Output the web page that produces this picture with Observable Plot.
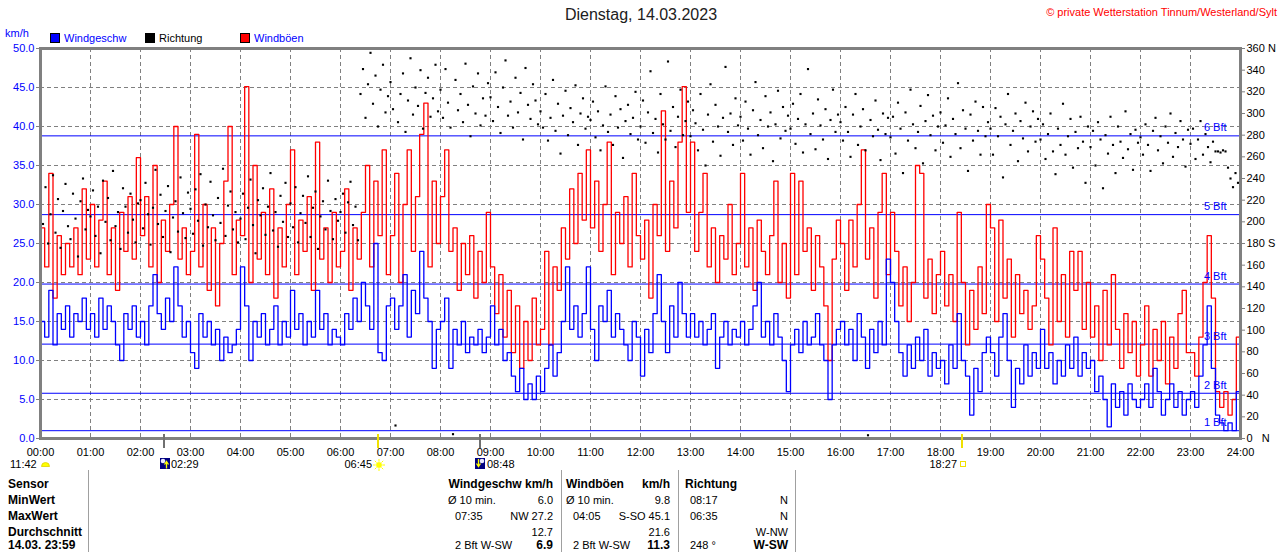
<!DOCTYPE html>
<html><head><meta charset="utf-8">
<script src="https://cdn.jsdelivr.net/npm/d3@7"></script>
<script src="https://cdn.jsdelivr.net/npm/@observablehq/plot@0.6"></script>
<style>
body{margin:0;background:#fff;font-family:"Liberation Sans",Arial,sans-serif;}
#wrap{position:relative;width:1280px;height:552px;overflow:hidden;background:#fff;}
#wrap svg.plot{position:absolute;left:0;top:0;}
.t{position:absolute;white-space:nowrap;font-size:11px;line-height:14px;color:#000;}
.b{font-weight:bold;font-size:12px;}
.sep{position:absolute;width:1px;background:#a0a0a0;top:470px;height:82px;}
</style></head><body><div id="wrap"></div>
<script>
// ---------- data ----------
const titleText = "Dienstag, 14.03.2023";
const copyrightText = "© private Wetterstation Tinnum/Westerland/Sylt";
const hourLabels = ["00:00","01:00","02:00","03:00","04:00","05:00","06:00","07:00","08:00","09:00","10:00","11:00","12:00","13:00","14:00","15:00","16:00","17:00","18:00","19:00","20:00","21:00","22:00","23:00","24:00"];
const kmhTicks = [0,5,10,15,20,25,30,35,40,45,50];
const kmhGrid = [5,10,15,20,25,30,35,40,45];
const degTicks = [0,20,40,60,80,100,120,140,160,180,200,220,240,260,280,300,320,340,360];
const degLabels = ["0\u00a0\u00a0\u00a0N","20","40","60","80","100","120","140","160","180 S","200","220","240","260","280","300","320","340","360 N"];
const bftLevels = [1, 5.8, 12.1, 19.8, 28.7, 38.8];
const bftNames = ["1 Bft","2 Bft","3 Bft","4 Bft","5 Bft","6 Bft"];

// wind speed km/h, every 5 minutes (00:00 .. 24:00)
const windSpeed = [
15,13,19,12,16,14,17,13,16,15,18,14,
16,13,18,14,17,15,12,10,16,14,17,13,
15,12,17,21,16,14,18,15,22,17,13,15,
11,9,16,13,15,12,14,10,13,11,12,14,
22,17,10,15,13,16,12,14,17,12,15,13,
19,14,16,12,15,13,19,14,16,12,14,13,
12,16,14,18,15,20,17,14,25,11,10,17,
18,14,17,21,13,19,16,24,18,15,9,14,
15,18,9,14,12,15,11,13,12,14,11,13,
17,12,14,10,11,8,6,9,5,7,5,8,
6,9,12,8,11,15,22,14,17,13,16,22,
14,10,17,15,19,13,16,14,12,10,15,13,
8,14,11,16,21,15,11,17,13,20,16,13,
16,13,15,12,14,16,9,13,15,12,14,13,
15,12,14,17,20,13,15,12,16,13,10,6,
12,14,11,15,12,13,16,12,10,5,12,14,
15,12,14,10,16,13,9,14,11,15,12,23,
20,15,11,8,12,9,13,10,14,8,11,9,
10,7,12,9,16,10,8,3,9,6,11,13,
11,8,13,16,10,4,9,7,12,8,11,9,
14,9,11,7,10,8,12,9,13,8,11,9,
10,6,8,5,1.5,7,4,6,3,7,5,4,
5,7,4,9,6,3,5,7,4,6,3,5,
6,4,8,12,17,9,3,2,1,2,1,6,
8];

// gusts km/h, every 5 minutes
const gusts = [
27,22,34,18,26,21,25,22,27,21,32,23,
30,22,28,33,21,27,19,29,24,31,23,36,
26,31,22,35,20,28,24,30,40,23,27,21,
24,39,22,30,19,27,17,25,33,40,21,28,
26,45.1,20,35,23,29,21,32,18,27,22,30,
37,21,28,24,31,19,38,23,27,20,29,22,
24,32,19,27,23,29,35,22,33,26,37,21,
26,34,20,30,37,24,31,39,43,22,33,25,
31,37,24,27,19,25,21,26,18,24,20,29,
22,16,21,13,19,11,17,9,15,10,18,12,
14,24,12,22,19,27,23,32,25,34,28,37,
27,33,24,30,38,21,29,25,31,22,34,26,
23,28,18,30,26,42,24,33,27,38,45.1,29,
38,24,29,34,22,27,20,26,23,30,21,25,
34,22,27,19,28,24,21,26,33,20,25,18,
34,21,33,24,27,19,26,22,17,10,23,28,
25,19,28,22,30,37,23,27,18,29,34,21,
29,24,17,22,15,20,35,34,18,23,16,21,
24,17,21,15,29,20,12,19,14,22,16,30,
27,15,28,18,23,13,21,16,19,14,17,26,
23,18,12,27,15,21,13,24,19,24,14,20,
13,17,10,19,12,21,14,9,16,11,15,8,
12,17,8,14,10,15,7,13,9,16,19,11,
11,8,13,20,26,18,6,4,6,3,5,13,
14];

// wind direction degrees, every 3 minutes
const direction = [
215,198,232,180,207,243,190,221,176,210,235,196,184,226,203,168,219,240,193,211,
205,229,187,214,171,238,200,222,183,247,196,209,175,231,214,190,226,202,181,217,
220,194,236,207,179,213,248,198,225,186,210,233,172,204,219,191,241,208,185,227,
212,189,230,201,244,178,216,195,237,206,183,222,199,249,187,215,228,193,209,181,
203,226,184,213,239,197,171,220,206,231,188,214,245,192,209,177,224,200,236,186,
217,195,232,181,208,224,199,242,186,213,228,175,205,219,193,238,210,184,221,201,
209,226,190,218,237,197,214,183,318,341,296,327,356,309,335,288,322,345,301,316,
329,304,12,292,318,337,283,312,351,299,324,307,340,286,319,333,297,314,345,302,
322,296,341,310,287,4,331,303,318,292,346,308,279,325,300,337,289,314,298,328,
315,293,338,306,282,324,349,298,311,287,333,301,319,276,342,308,295,327,312,290,
302,287,318,275,296,331,284,309,263,298,321,280,305,292,326,271,300,314,286,297,
294,311,278,302,266,289,325,283,299,271,316,287,304,259,293,308,281,296,320,276,
288,312,273,301,339,282,295,264,318,290,276,348,284,306,269,297,322,280,293,311,
279,303,291,266,318,285,252,299,327,274,308,288,261,296,343,283,300,271,314,289,
297,275,311,286,262,303,329,280,294,268,316,288,301,256,290,321,277,306,284,298,
286,309,272,295,318,264,290,341,281,300,267,313,289,276,304,258,294,322,283,299,
292,275,306,283,260,299,318,271,288,304,266,3,294,279,312,285,257,300,281,296,
278,297,263,310,286,245,301,275,322,290,268,283,307,254,293,317,280,298,266,288,
301,273,289,314,260,295,281,328,268,303,286,247,299,275,311,284,262,306,279,292,
286,262,305,279,297,241,290,318,271,284,300,256,293,277,310,265,288,302,274,295,
276,290,258,281,300,265,244,286,271,309,262,279,295,250,283,268,297,274,236,288,
269,284,252,292,276,231,280,263,297,271,245,288,274,259,302,267,281,248,285,273,
278,262,290,271,247,284,296,266,279,254,288,273,300,260,282,269,293,276,251,285,
272,286,258,276,293,262,281,269,255,274,265,265,264,266,265,250,240,232,245,236];

// sun / moon events below the axis
const dayLength = "11:42";
const eventTimes = ["02:29","06:45","08:48","18:27"];
const eventKinds = ["moonrise","sunrise","moonset","sunset"];

// table
const tableRowLabels = ["Sensor","MinWert","MaxWert","Durchschnitt","14.03. 23:59"];
const speedHeader = "Windgeschw km/h";
const speedLeft = ["Ø 10 min.","07:35","","2 Bft W-SW"];
const speedRight = ["6.0","NW 27.2","12.7","6.9"];
const gustHeaderL = "Windböen", gustHeaderR = "km/h";
const gustLeft = ["Ø 10 min.","04:05","","2 Bft W-SW"];
const gustRight = ["9.8","S-SO 45.1","21.6","11.3"];
const dirHeader = "Richtung";
const dirLeft = ["08:17","06:35","","248 °"];
const dirRight = ["N","N","W-NW","W-SW"];

// ---------- build ----------
const toKmh = deg => deg * 50 / 360;
const speedData = windSpeed.map((v, i) => ({t: i * 5 / 60, v}));
const gustData = gusts.map((v, i) => ({t: i * 5 / 60, v}));
const dirData = direction.map((deg, i) => ({t: i * 3 / 60, deg}));
const bftData = bftLevels.map((v, i) => ({v, name: bftNames[i]}));
const hourPos = hourLabels.map((_, i) => i);
const gridHours = hourPos.slice(1, 24);

const chart = Plot.plot({
  width: 1280, height: 470,
  marginTop: 48, marginBottom: 32, marginLeft: 40, marginRight: 40,
  x: {domain: [0, 24], label: null},
  y: {domain: [0, 50], label: null},
  style: {fontFamily: "'Liberation Sans', Arial, sans-serif", fontSize: "11px", background: "white", overflow: "visible"},
  marks: [
    Plot.gridX(gridHours, {stroke: "#808080", strokeOpacity: 1, strokeDasharray: "4,3"}),
    Plot.gridY(kmhGrid, {stroke: "#808080", strokeOpacity: 1, strokeDasharray: "4,3"}),
    Plot.ruleY(bftData, {y: "v", stroke: "#0000ff", strokeWidth: 1}),
    Plot.line(gustData, {x: "t", y: "v", curve: "step-after", stroke: "#ff0000", strokeWidth: 1.3}),
    Plot.line(speedData, {x: "t", y: "v", curve: "step-after", stroke: "#0000ff", strokeWidth: 1.3}),
    Plot.dot(dirData, {x: "t", y: d => toKmh(d.deg), symbol: "square", r: 1.2, fill: "black"}),
    Plot.text(bftData, {x: 24, y: "v", text: "name", textAnchor: "end", dx: -14, dy: -8, fill: "#0000ff", fontSize: 11}),
    Plot.frame({stroke: "#808080", strokeWidth: 3}),
    Plot.axisY(kmhTicks, {anchor: "left", label: null, tickSize: 4, tickPadding: 2, stroke: "#808080", fill: "#0000ff", tickFormat: d => d.toFixed(1)}),
    Plot.axisY(degTicks.map(toKmh), {anchor: "right", label: null, tickSize: 4, tickPadding: 2, stroke: "#808080", fill: "black", tickFormat: d => degLabels[Math.round(d * 7.2 / 20)]}),
    Plot.axisX(hourPos, {anchor: "bottom", label: null, tickSize: 0, tickPadding: 10, fill: "black", tickFormat: d => hourLabels[d]})
  ]
});
chart.classList.add("plot");
const wrap = document.getElementById("wrap");
wrap.appendChild(chart);

function txt(s, x, y, o = {}) {
  const d = document.createElement("div");
  d.className = "t" + (o.bold ? " b" : "");
  d.textContent = s;
  if (o.right) d.style.right = (1280 - x) + "px"; else if (o.center) { d.style.left = (x - 200) + "px"; d.style.width = "400px"; d.style.textAlign = "center"; } else d.style.left = x + "px";
  d.style.top = (y - 7) + "px";
  if (o.color) d.style.color = o.color;
  if (o.size) { d.style.fontSize = o.size + "px"; d.style.lineHeight = (o.size + 2) + "px"; d.style.top = (y - (o.size + 2) / 2) + "px"; }
  wrap.appendChild(d);
  return d;
}
function box(x, y, w, h, css) {
  const d = document.createElement("div");
  d.style.cssText = `position:absolute;left:${x}px;top:${y}px;width:${w}px;height:${h}px;` + css;
  wrap.appendChild(d);
  return d;
}
function icon(x, y, svg) {
  const d = document.createElement("div");
  d.style.cssText = `position:absolute;left:${x}px;top:${y}px;line-height:0;`;
  d.innerHTML = svg;
  wrap.appendChild(d);
}

// title, copyright, legend
txt(titleText, 641, 15, {center: true, size: 16, color: "#202020"});
txt(copyrightText, 1277, 12, {right: true, color: "#ff0000"});
txt("km/h", 5, 33, {color: "#0000ff"});
box(50, 33, 8, 8, "background:#0000ff;border:1px solid #000;");
txt("Windgeschw", 64, 38, {color: "#0000ff"});
box(145, 33, 8, 8, "background:#000;border:1px solid #000;");
txt("Richtung", 159, 38);
box(240, 33, 8, 8, "background:#ff0000;border:1px solid #000;");
txt("Windböen", 254, 38, {color: "#0000ff"});

// events under the axis
const xs = chart.scale("x");
const toH = s => { const [h, m] = s.split(":").map(Number); return h + m / 60; };
txt(dayLength, 10, 464);
icon(41, 461, '<svg width="9" height="6"><path d="M0.5 5.5 A4 4 0 0 1 8.5 5.5 Z" fill="#ffff00" stroke="#e0d000" stroke-width="0.8"/></svg>');
eventTimes.forEach((s, i) => {
  const px = Math.round(xs.apply(toH(s)));
  const kind = eventKinds[i];
  const sun = kind.startsWith("sun");
  box(px - 1, 434, 2, 14, `background:${sun ? "#f0e000" : "#707070"};`);
  if (kind === "moonrise") {
    icon(px - 4, 458, '<svg width="10" height="11"><rect width="10" height="11" fill="#000080"/><circle cx="3" cy="3" r="2.3" fill="#e8e8ff"/><path d="M6.5 10.5 V4 M4.5 6.5 L6.5 3.5 L8.5 6.5" stroke="#ffff00" stroke-width="1.3" fill="none"/></svg>');
    txt(s, px + 7, 464);
  } else if (kind === "moonset") {
    icon(px - 5, 458, '<svg width="10" height="11"><rect width="10" height="11" fill="#000080"/><circle cx="7" cy="3" r="2.3" fill="#e8e8ff"/><path d="M3.5 1 V8 M1.5 5.5 L3.5 8.5 L5.5 5.5" stroke="#ffff00" stroke-width="1.3" fill="none"/></svg>');
    txt(s, px + 7, 464);
  } else if (kind === "sunrise") {
    icon(px - 5, 459, '<svg width="12" height="12"><g stroke="#ffff00" stroke-width="1"><path d="M6 0 V12 M0 6 H12 M1.8 1.8 L10.2 10.2 M10.2 1.8 L1.8 10.2"/></g><circle cx="6" cy="6" r="3.3" fill="#ffff00" stroke="#fff" stroke-width="0.6"/></svg>');
    txt(s, px - 6, 464, {right: true});
  } else {
    box(px - 2, 461, 4, 4, "border:1px solid #f0e000;background:#fff;");
    txt(s, px - 5, 464, {right: true});
  }
});

// table
[88, 561, 678, 795].forEach(x => { const d = document.createElement("div"); d.className = "sep"; d.style.left = x + "px"; wrap.appendChild(d); });
const rowY = [484, 500, 516, 532, 545];
tableRowLabels.forEach((s, i) => txt(s, 8, rowY[i], {bold: true}));
txt(speedHeader, 553, rowY[0], {bold: true, right: true});
txt(gustHeaderL, 566, rowY[0], {bold: true});
txt(gustHeaderR, 670, rowY[0], {bold: true, right: true});
txt(dirHeader, 685, rowY[0], {bold: true});
const last = 3;
speedLeft.forEach((s, i) => { if (s) txt(s, i === 0 ? 448 : 455, rowY[i + 1]); });
speedRight.forEach((s, i) => txt(s, 553, rowY[i + 1], {right: true, bold: i === last}));
gustLeft.forEach((s, i) => { if (s) txt(s, i === 0 ? 566 : 573, rowY[i + 1]); });
gustRight.forEach((s, i) => txt(s, 670, rowY[i + 1], {right: true, bold: i === last}));
dirLeft.forEach((s, i) => { if (s) txt(s, 690, rowY[i + 1]); });
dirRight.forEach((s, i) => txt(s, 788, rowY[i + 1], {right: true, bold: i === last}));
</script>
</body></html>
